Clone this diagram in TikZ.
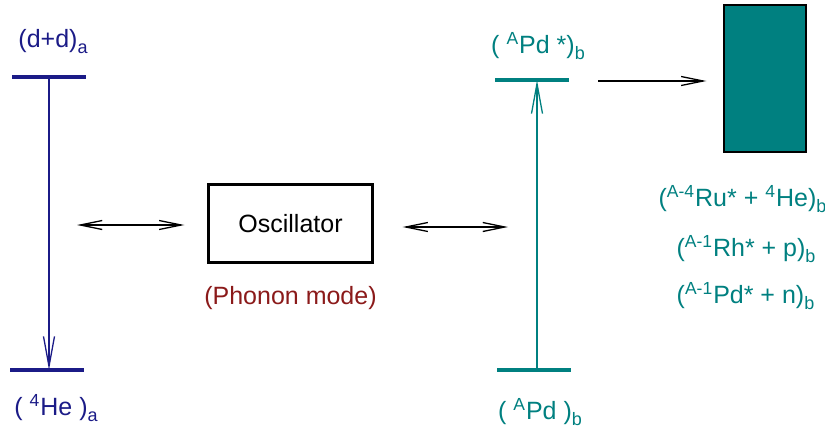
\documentclass[tikz,border=0pt]{standalone}
\usepackage{fontspec}
\setmainfont{Liberation Sans}
\usetikzlibrary{arrows.meta, positioning}
\definecolor{levela}{HTML}{1B1B87}
\definecolor{levelb}{HTML}{008080}
\definecolor{phonon}{HTML}{8B1A1A}
\newcommand{\lowsub}[1]{\raisebox{-3pt}{\fontsize{9}{9}\selectfont #1}}

\begin{document}
\begin{tikzpicture}[
    x=0.5pt, y=-0.5pt,
    lbl/.style={inner sep=0pt, anchor=base, font=\fontsize{12.5}{15}\selectfont},
    level/.style={line width=1.6pt},
    trans/.style={-{Straight Barb[length=15pt, width=5.5pt]}, line width=0.65pt},
    couple/.style={{Straight Barb[length=11pt, width=4.5pt]}-{Straight Barb[length=11pt, width=4.5pt]}, line width=0.65pt},
    decay/.style={-{Straight Barb[length=11pt, width=4.5pt]}, line width=0.65pt},
  ]
  \useasboundingbox (0,0) rectangle (825,430);

  % system a
  \draw[level, levela] (12,77) -- (86,77);
  \draw[level, levela] (10,370) -- (84,370);
  \coordinate (dd) at (49,77);
  \coordinate (he) at (49,370);
  \node[lbl, levela] (ddlbl) at (53,47) {(d+d)\lowsub{a}};
  \node[lbl, levela] (helbl) at (56,415) {( \textsuperscript{4}He )\lowsub{a}};
  \draw[trans, levela] (dd) -- (he);

  % oscillator
  \node[draw, line width=1.1pt, minimum width=82pt, minimum height=39pt,
        font=\fontsize{12.5}{15}\selectfont] (osc) at (290.5,223.5) {Oscillator};
  \node[lbl, phonon, anchor=north, below=11pt of osc] (mode) {(Phonon mode)};

  \coordinate (cl) at (77,225);
  \coordinate (cr) at (508,227);
  \draw[couple, shorten >=11.5pt] (cl) -- (cl -| osc.west);
  \draw[couple, shorten <=14.5pt] (osc.east |- cr) -- (cr);

  % system b
  \draw[level, levelb] (495,80) -- (569,80);
  \draw[level, levelb] (497,370) -- (571,370);
  \coordinate (pdx) at (537,80);
  \coordinate (pd) at (537,370);
  \node[lbl, levelb] (pdxlbl) at (538,53) {( \textsuperscript{A}Pd *)\lowsub{b}};
  \node[lbl, levelb] (pdlbl) at (540,419) {( \textsuperscript{A}Pd )\lowsub{b}};
  \draw[trans, levelb] (pd) -- (pdx);

  % decay
  \node[draw, line width=0.6pt, fill=levelb, minimum width=41pt,
        minimum height=73.5pt, inner sep=0pt] (nuc) at (765,78.5) {};
  \coordinate (dk) at (598,81);
  \draw[decay, shorten >=8.5pt] (dk) -- (dk -| nuc.west);

  \node[lbl, levelb] (ru) at (742.5,206) {(\textsuperscript{A-4}Ru* + \textsuperscript{4}He)\lowsub{b}};
  \node[lbl, levelb] (rh) at (746,256) {(\textsuperscript{A-1}Rh* + p)\lowsub{b}};
  \node[lbl, levelb] (pdn) at (745.5,303) {(\textsuperscript{A-1}Pd* + n)\lowsub{b}};
\end{tikzpicture}
\end{document}
